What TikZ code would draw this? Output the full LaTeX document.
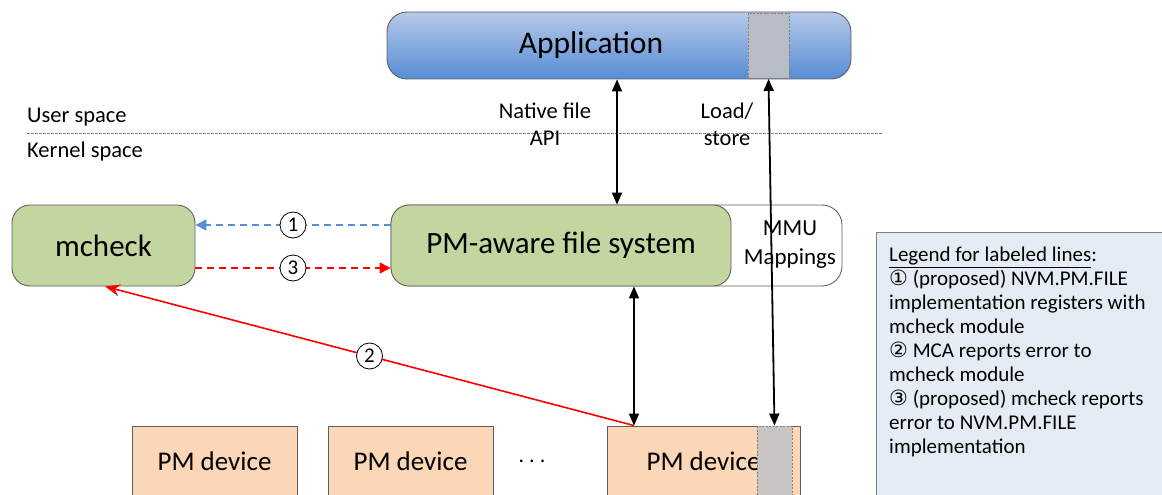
\documentclass[tikz,border=0pt]{standalone}
\usepackage{fontspec}
\setmainfont{Carlito}
\newfontfamily\dejavu{DejaVu Sans}
\usetikzlibrary{arrows.meta}
\definecolor{appTop}{RGB}{182,201,233}
\definecolor{appBot}{RGB}{86,141,212}
\definecolor{grn}{RGB}{196,214,160}
\definecolor{peach}{RGB}{251,214,183}
\definecolor{legbg}{RGB}{230,236,246}
\definecolor{bord}{RGB}{95,95,95}
\definecolor{blu}{RGB}{85,142,213}
\definecolor{grayA}{RGB}{184,189,197}
\definecolor{grayB}{RGB}{200,196,193}
\begin{document}
\begin{tikzpicture}[x=1pt,y=-1pt,
  appbox/.style={draw=bord, line width=0.9pt, rounded corners=20pt, minimum width=464pt, minimum height=67pt, top color=appTop, bottom color=appBot, inner sep=0pt},
  slotbox/.style={draw=gray, line width=0.9pt, dash pattern=on 2pt off 1.5pt, inner sep=0pt},
  gbox/.style={draw=bord, line width=0.9pt, fill=grn, rounded corners=18pt, minimum height=81pt, inner sep=0pt, font=\fontsize{31}{36}\selectfont},
  mmubox/.style={draw=bord, line width=0.9pt, fill=white, rounded corners=20pt, minimum height=81pt, minimum width=451pt, inner sep=0pt},
  devbox/.style={draw=bord, line width=0.9pt, fill=peach, minimum height=70pt, inner sep=0pt, font=\fontsize{27}{30}\selectfont},
  lbl/.style={inner sep=0pt, font=\fontsize{22.5}{27}\selectfont, align=center},
  circ/.style={circle, draw=black, solid, line width=0.8pt, fill=white, text=black, inner sep=0pt, minimum size=26pt, font=\fontsize{21}{21}\selectfont},
  barrow/.style={line width=1.8pt, {Triangle[length=12pt,width=10pt]}-{Triangle[length=12pt,width=10pt]}},
  bdash/.style={blu, line width=1.5pt, dash pattern=on 7pt off 5pt, -{Triangle[length=11pt,width=11pt]}},
  rdash/.style={red, line width=1.5pt, dash pattern=on 7pt off 5pt, -{Triangle[length=11pt,width=11pt]}},
  rsolid/.style={red, line width=1.6pt, -{Stealth[length=15pt,width=12pt]}},
  sepline/.style={gray, line width=0.7pt, dash pattern=on 2.5pt off 1.5pt}
]
\useasboundingbox (0,0) rectangle (1162,495);
\clip (0,0) rectangle (1162,495);

% Application
\node[appbox] (app) at (619,45.5) {};
\node[slotbox, fill=grayA, minimum width=41pt, minimum height=65pt] (appslot) at (768.5,46) {};
\node[inner sep=0pt, font=\fontsize{31.5}{36}\selectfont] (apptxt) at (591,45) {Application};

% user / kernel separation
\node[lbl, anchor=base west] (us) at (27,122) {User space};
\node[lbl, anchor=base west] (ks) at (27,157) {Kernel space};
\coordinate (sepL) at (27,133);
\coordinate (sepR) at (883,133);
\draw[sepline] (sepL) -- (sepR);

\node[lbl] (nf) at (545,124) {Native file\\API};
\node[lbl] (ls) at (727,124) {Load/\\store};

% kernel boxes
\node[gbox, minimum width=183pt] (mcheck) at (103.5,245.5) {mcheck};
\node[mmubox] (mmu) at (616.5,245.5) {};
\node[inner sep=0pt, align=center, font=\fontsize{23}{29}\selectfont] (mmutxt) at (790,245) {MMU\\Mappings};
\node[gbox, minimum width=340pt] (pmfs) at (561,245.5) {PM-aware file system};

% devices
\node[devbox, minimum width=165pt] (dev1) at (214.5,461) {PM device};
\node[devbox, minimum width=165pt] (dev2) at (410.5,461) {PM device};
\node[inner sep=0pt, font=\fontsize{22}{26}\selectfont] (dots) at (532,461) {.\hspace{5pt}.\hspace{5pt}.};
\node[devbox, minimum width=193pt] (dev3) at (703.5,461) {PM device};
\node[slotbox, fill=grayB, minimum width=35pt, minimum height=70pt] (devslot) at (774.5,461) {};

% legend
\node[draw=gray, line width=0.9pt, fill=legbg, anchor=north west, minimum width=340pt, minimum height=320pt, inner sep=0pt] (leg) at (876,232) {};
\node[anchor=north west, inner sep=0pt, align=left, font=\fontsize{21}{24}\selectfont] (legtxt) at (889,247)
 {\underline{Legend for labeled lines}:\\
  {\dejavu ①} (proposed) NVM.PM.FILE\\
  implementation registers with\\
  mcheck module\\
  {\dejavu ②} MCA reports error to\\
  mcheck module\\
  {\dejavu ③} (proposed) mcheck reports\\
  error to NVM.PM.FILE\\
  implementation};

% connectors
\draw[barrow] ([xshift=-2pt]app.south) -- ([xshift=56pt]pmfs.north);
\draw[barrow] (appslot.south) -- (devslot.north);
\coordinate (fsb) at ([xshift=73pt]pmfs.south);
\draw[barrow] (fsb) -- (fsb |- dev3.north);

\draw[bdash] ([yshift=20.5pt]pmfs.west) -- node[circ] (c1) {1} ([yshift=20.5pt]mcheck.east);
\draw[rdash] ([yshift=-22.5pt]mcheck.east) -- node[circ] (c3) {3} ([yshift=-22.5pt]pmfs.west);
\draw[rsolid] (fsb |- dev3.north) -- node[circ] (c2) {2} ([xshift=1.5pt]mcheck.south);
\end{tikzpicture}
\end{document}
